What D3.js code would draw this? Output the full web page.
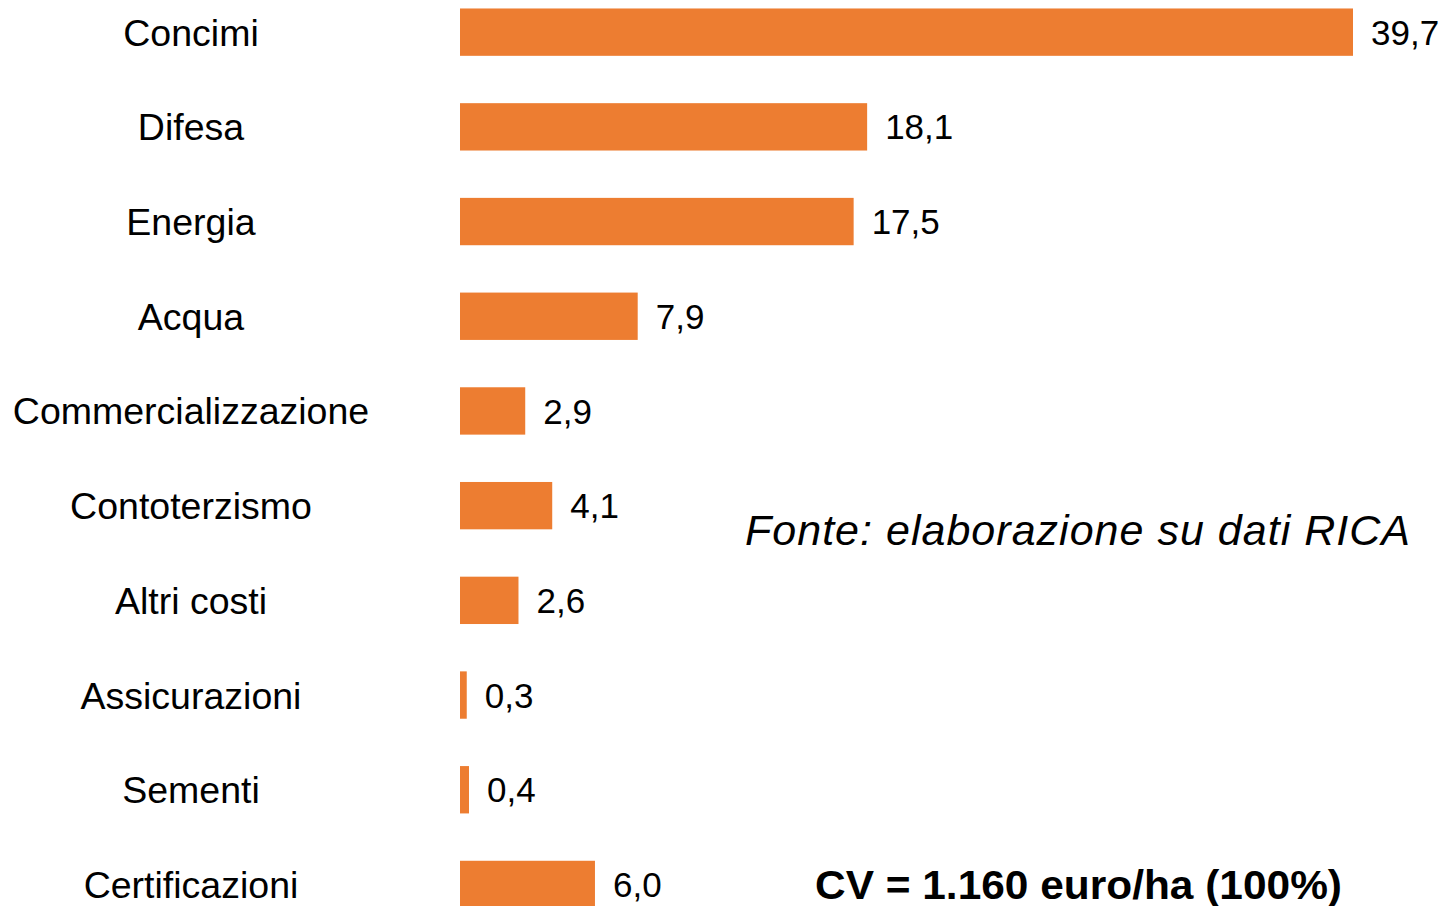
<!DOCTYPE html>
<html>
  <head>
	<meta charset="utf-8">
    <title>Costi variabili</title>
    <script src="https://cdnjs.cloudflare.com/ajax/libs/d3/7.8.5/d3.min.js"></script>
  	<style>
		body{
			margin:0;
			background:#fff;
		}
		svg{
			display:block;
		}
		.cat {
		  font: 37.5px "Liberation Sans", Arial, sans-serif;
		  fill: #000;
		  text-anchor: middle;
		}
		.val {
		  font: 35px "Liberation Sans", Arial, sans-serif;
		  fill: #000;
		}
		.note {
		  font: italic 43px "Liberation Sans", Arial, sans-serif;
		  fill: #000;
		}
		.total {
		  font: bold 40px "Liberation Sans", Arial, sans-serif;
		  fill: #000;
		}
	</style>
  </head>
  <body>
    <div id="diagram"></div>
    <script>
		var categories = ["Concimi", "Difesa", "Energia", "Acqua", "Commercializzazione",
			"Contoterzismo", "Altri costi", "Assicurazioni", "Sementi", "Certificazioni"];
		var values = [39.7, 18.1, 17.5, 7.9, 2.9, 4.1, 2.6, 0.3, 0.4, 6.0];
		var sourceNote = "Fonte: elaborazione su dati RICA";
		var totalNote = "CV = 1.160 euro/ha (100%)";

		var width = 1445, height = 906;
		var x0 = 460;

		var svg = d3.select("#diagram").append("svg")
					.attr("width", width)
					.attr("height", height);

		var xScale = d3.scaleLinear().domain([0, 39.7]).range([x0, 1353]);
		//10 rows, step ~94.7px, bar half the step
		var yScale = d3.scaleBand().domain(categories)
					.range([-15.2, 931.8])
					.paddingInner(0.5).paddingOuter(0.25);

		var fmt = function(v){ return d3.format(".1f")(v).replace(".", ","); };

		var rows = svg.selectAll(".row")
			.data(categories.map(function(c, i){ return {cat: c, v: values[i]}; }))
			.enter().append("g")
			.attr("class", "row");

		rows.append("rect")
			.attr("x", xScale(0))
			.attr("y", function(d){ return yScale(d.cat); })
			.attr("width", function(d){ return xScale(d.v) - xScale(0); })
			.attr("height", yScale.bandwidth())
			.attr("fill", "#ED7D31");

		rows.append("text")
			.attr("class", "cat")
			.attr("x", 191)
			.attr("y", function(d){ return yScale(d.cat) + yScale.bandwidth()/2; })
			.attr("dy", "0.36em")
			.text(function(d){ return d.cat; });

		rows.append("text")
			.attr("class", "val")
			.attr("x", function(d){ return xScale(d.v) + 18; })
			.attr("y", function(d){ return yScale(d.cat) + yScale.bandwidth()/2; })
			.attr("dy", "0.36em")
			.text(function(d){ return fmt(d.v); });

		svg.append("text")
			.attr("class", "note")
			.attr("x", 745)
			.attr("y", 545)
			.attr("textLength", 665)
			.attr("lengthAdjust", "spacing")
			.text(sourceNote);

		svg.append("text")
			.attr("class", "total")
			.attr("x", 815)
			.attr("y", 899)
			.attr("textLength", 527)
			.attr("lengthAdjust", "spacingAndGlyphs")
			.text(totalNote);
	</script>
  </body>
</html>
